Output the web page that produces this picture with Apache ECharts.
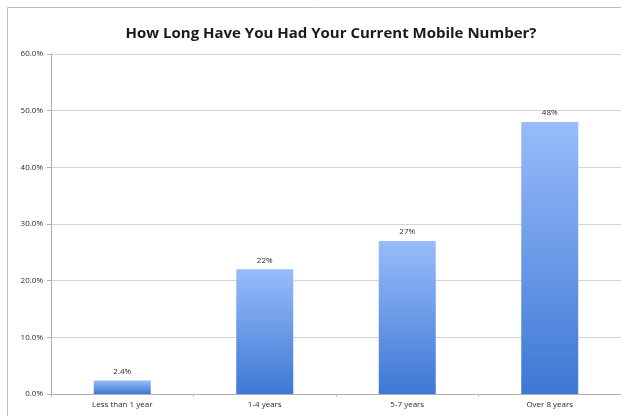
<!DOCTYPE html>
<html>
<head>
<meta charset="utf-8">
<script src="https://cdn.jsdelivr.net/npm/echarts@6/dist/echarts.min.js"></script>
<style>
html,body{margin:0;padding:0;background:#fff;}
#chart{width:621px;height:416px;}
</style>
</head>
<body>
<div id="chart"></div>
<script>
const titleText = "How Long Have You Had Your Current Mobile Number?";
const categories = ["Less than 1 year", "1-4 years", "5-7 years", "Over 8 years"];
const values = [2.4, 22, 27, 48];
const valueLabels = ["2.4%", "22%", "27%", "48%"];
const yTicks = [0, 10, 20, 30, 40, 50, 60];

const chart = echarts.init(document.getElementById('chart'), null, {renderer: 'canvas'});
const option = {
  backgroundColor: '#ffffff',
  animation: false,
  title: {
    text: titleText,
    left: 326, top: 21, textAlign: 'center',
    textStyle: {fontFamily: 'Open Sans', fontWeight: 'bold', fontSize: 15, color: '#1a1a1a'}
  },
  graphic: [{
    type: 'rect', silent: true,
    shape: {x: 7.5, y: 7.5, width: 640, height: 440},
    style: {fill: 'none', stroke: '#bdbdbd', lineWidth: 1}
  }],
  grid: {left: 51, right: 0, top: 54, bottom: 22, containLabel: false},
  xAxis: {
    type: 'category',
    data: categories,
    axisLine: {show: true, lineStyle: {color: '#b0b0b0'}},
    axisTick: {show: true, alignWithLabel: false, length: 3, lineStyle: {color: '#c0c0c0'}},
    axisLabel: {fontFamily: 'Open Sans', fontSize: 8, color: '#2a2a2a', margin: 7}
  },
  yAxis: {
    type: 'value', min: yTicks[0], max: yTicks[yTicks.length - 1], interval: 10,
    axisLine: {show: true, lineStyle: {color: '#b0b0b0'}},
    axisTick: {show: true, length: 4, lineStyle: {color: '#b0b0b0'}},
    axisLabel: {fontFamily: 'Open Sans', fontSize: 8, color: '#2a2a2a', margin: 8,
      formatter: v => v.toFixed(1) + '%'},
    splitLine: {show: true, lineStyle: {color: '#d4d4d4'}}
  },
  series: [{
    type: 'bar',
    data: values.map((v, i) => ({value: v, label: {formatter: valueLabels[i]}})),
    barWidth: 57,
    itemStyle: {
      color: new echarts.graphic.LinearGradient(0, 0, 0, 1, [
        {offset: 0, color: '#98bcfa'},
        {offset: 1, color: '#3d78d4'}
      ])
    },
    label: {show: true, position: 'top', distance: 5, fontFamily: 'Open Sans', fontSize: 8, color: '#2a2a2a'}
  }]
};
chart.setOption(option);
</script>
</body>
</html>
